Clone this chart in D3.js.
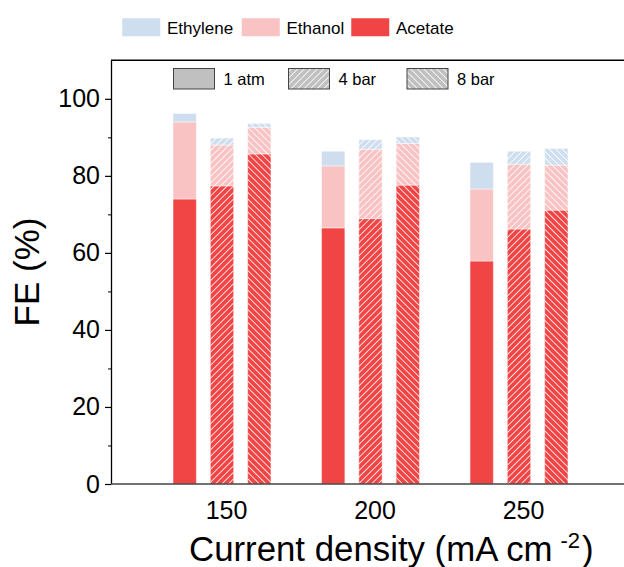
<!DOCTYPE html>
<meta charset="utf-8">
<style>
  body { margin: 0; background: #fff; }
  text { font-family: "Liberation Sans", Arial, sans-serif; fill: #000; }
</style>
<body>
</body>
<script src="https://cdn.jsdelivr.net/npm/d3@7"></script>
<script>

var width = 624,
    height = 567;

var densities = [150, 200, 250];
var pressures = ["1 atm", "4 bar", "8 bar"];
var products = ["Acetate", "Ethanol", "Ethylene"];

// FE (%) per segment, order of pressures within each current density
var acetate  = [74.0, 77.4, 85.7,  66.5, 68.9, 77.6,  57.9, 66.2, 71.1];
var ethanol  = [20.0, 10.6,  6.9,  16.1, 18.0, 10.8,  18.7, 16.8, 11.7];
var ethylene = [ 2.2,  1.8,  1.0,   3.8,  2.5,  1.7,   6.9,  3.4,  4.3];

var yTicks = [0, 20, 40, 60, 80, 100];
var yMinor = [10, 30, 50, 70, 90];

var colors = {
  Ethylene: "#cfdeef",
  Ethanol: "#f9c3c4",
  Acetate: "#f14445"
};

var svg = d3.select("body").append("svg")
    .attr("width", width)
    .attr("height", height);

var y = d3.scaleLinear().domain([0, 110]).range([484, 60.3]);
var x = d3.scaleLinear().domain([150, 250]).range([226, 523]);
var inner = d3.scaleBand().domain(pressures)
    .range([-4 - 1.5 * 37.3, -4 + 1.5 * 37.3])
    .paddingInner(0.375).paddingOuter(0.1875);

// hatch patterns
var defs = svg.append("defs");
function hatch(id, angle) {
  var p = defs.append("pattern")
      .attr("id", id)
      .attr("patternUnits", "userSpaceOnUse")
      .attr("width", 4.6).attr("height", 4.6)
      .attr("patternTransform", "rotate(" + angle + ")");
  p.append("line")
      .attr("x1", 2.3).attr("x2", 2.3)
      .attr("y1", 0).attr("y2", 4.6)
      .style("stroke", "#fff")
      .style("stroke-width", 0.9)
      .style("stroke-opacity", 0.9);
}
hatch("h4", 45);
hatch("h8", -45);
var hatchFor = {"1 atm": null, "4 bar": "url(#h4)", "8 bar": "url(#h8)"};

// stacked data
var rows = [];
densities.forEach(function(d, i) {
  pressures.forEach(function(p, j) {
    var k = i * 3 + j;
    rows.push({density: d, pressure: p, Acetate: acetate[k], Ethanol: ethanol[k], Ethylene: ethylene[k]});
  });
});
var series = d3.stack().keys(products)(rows);

var bars = svg.append("g");
series.forEach(function(s) {
  var g = bars.append("g");
  g.selectAll("rect.fill")
      .data(s)
    .enter().append("rect")
      .attr("x", d => x(d.data.density) + inner(d.data.pressure))
      .attr("width", inner.bandwidth())
      .attr("y", d => y(d[1]))
      .attr("height", d => y(d[0]) - y(d[1]))
      .style("fill", colors[s.key])
      .style("stroke", "#fff")
      .style("stroke-opacity", 0.45)
      .style("stroke-width", 1);
  g.selectAll("rect.hatch")
      .data(s.filter(d => hatchFor[d.data.pressure]))
    .enter().append("rect")
      .attr("x", d => x(d.data.density) + inner(d.data.pressure))
      .attr("width", inner.bandwidth())
      .attr("y", d => y(d[1]))
      .attr("height", d => y(d[0]) - y(d[1]))
      .style("fill", d => hatchFor[d.data.pressure]);
});

// axes
var yAxis = svg.append("g")
    .attr("transform", "translate(111,0)")
    .call(d3.axisLeft(y).tickValues(yTicks).tickSize(6).tickSizeOuter(0).tickPadding(5));
yAxis.selectAll("text").style("font-size", "25px");
yAxis.select(".domain").style("stroke", "#000").style("stroke-width", 1.3);
yAxis.selectAll(".tick line").style("stroke-width", 1.2);

svg.append("g")
    .attr("transform", "translate(111,0)")
    .call(d3.axisLeft(y).tickValues(yMinor).tickSize(3).tickFormat(""))
    .call(g => g.select(".domain").remove());

var xAxis = svg.append("g")
    .attr("transform", "translate(0,484)")
    .call(d3.axisBottom(x).tickValues(densities).tickSize(0).tickPadding(17));
xAxis.select(".domain").remove();
xAxis.selectAll("text").style("font-size", "25px");

svg.append("line")
    .attr("x1", 111).attr("x2", width)
    .attr("y1", 484).attr("y2", 484)
    .style("stroke", "#444").style("stroke-width", 1.5);
svg.append("line")
    .attr("x1", 111).attr("x2", width)
    .attr("y1", y(110)).attr("y2", y(110))
    .style("stroke", "#000").style("stroke-width", 1.5);

// axis titles
svg.append("text")
    .attr("transform", "translate(39,272) rotate(-90)")
    .attr("text-anchor", "middle")
    .style("font-size", "35px")
    .text("FE (%)");

var xt = svg.append("text")
    .attr("x", 189).attr("y", 561)
    .style("font-size", "34.8px")
    .text("Current density (mA cm");
xt.append("tspan").attr("dx", 8).attr("dy", -13).style("font-size", "22px").text("-2");
xt.append("tspan").attr("dx", 2).attr("dy", 13).text(")");

// product legend
var legX = [122, 241.5, 351];
var pl = svg.append("g").selectAll("g")
    .data(["Ethylene", "Ethanol", "Acetate"])
  .enter().append("g")
    .attr("transform", (d, i) => "translate(" + legX[i] + ",18)");
pl.append("rect")
    .attr("width", 38.5).attr("height", 18.5)
    .style("fill", d => colors[d])
    .style("stroke", "#fff").style("stroke-opacity", 0.5);
pl.append("text")
    .attr("x", 45).attr("y", 15.5)
    .style("font-size", "17px")
    .text(d => d);

// pressure legend
var presX = [173.5, 288.5, 407];
var pg = svg.append("g").selectAll("g")
    .data(pressures)
  .enter().append("g")
    .attr("transform", (d, i) => "translate(" + presX[i] + ",68.5)");
pg.append("rect")
    .attr("width", 41).attr("height", 20.5)
    .style("fill", "#c0c0c0");
pg.filter(d => hatchFor[d]).append("rect")
    .attr("width", 41).attr("height", 20.5)
    .style("fill", d => hatchFor[d]);
pg.append("rect")
    .attr("width", 41).attr("height", 20.5)
    .style("fill", "none")
    .style("stroke", "#444").style("stroke-width", 1);
pg.append("text")
    .attr("x", 50).attr("y", 16)
    .style("font-size", "16.5px")
    .text(d => d);

</script>
